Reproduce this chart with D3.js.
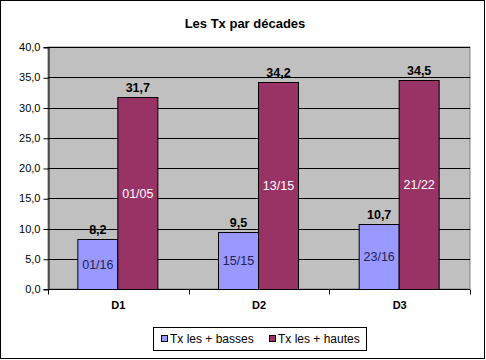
<!DOCTYPE html>
<html><head><meta charset="utf-8">
<script src="https://cdn.jsdelivr.net/npm/d3@7"></script>
<style>body{margin:0;background:#fff}svg{display:block;font-family:"Liberation Sans",Arial,sans-serif}</style>
</head><body><svg id="c" width="486" height="360"></svg>
<script>
const categories = ["D1","D2","D3"];
const seriesNames = ["Tx les + basses","Tx les + hautes"];
const basses = [8.2, 9.5, 10.7];
const hautes = [31.7, 34.2, 34.5];
const bassesDates = ["01/16","15/15","23/16"];
const hautesDates = ["01/05","13/15","21/22"];
const yTicks = [0,5,10,15,20,25,30,35,40];
const colors = ["#9999FF","#993366"];
const dateColors = ["#222255","#FFFFFF"];

const svg = d3.select("#c");
svg.append("rect").attr("x",0.5).attr("y",0.5).attr("width",484).attr("height",358).attr("fill","#fff").attr("stroke","#000");

const L=48,R=470,T=47,B=289;
const x = d3.scaleBand().domain(categories).range([L,R]);
const y = d3.scaleLinear().domain([0,40]).range([B,T]);
const fmt = v => d3.format(".1f")(v).replace(".",",");

svg.append("rect").attr("x",L).attr("y",T).attr("width",R-L).attr("height",B-T).attr("fill","#C0C0C0").attr("stroke","#808080");
svg.append("g").selectAll("line").data(yTicks.slice(1)).join("line")
  .attr("x1",L).attr("x2",R).attr("y1",d=>Math.round(y(d))+0.5).attr("y2",d=>Math.round(y(d))+0.5).attr("stroke","#000");

const data = [basses,hautes];
const dates = [bassesDates,hautesDates];
const bw = 40;
data.forEach((s,si)=>{
  const g = svg.append("g");
  g.selectAll("rect").data(s).join("rect")
    .attr("x",(d,i)=>x(categories[i])+x.bandwidth()/2-bw+si*bw-0.5)
    .attr("y",d=>Math.round(y(d))+0.5)
    .attr("width",bw).attr("height",d=>B-Math.round(y(d)))
    .attr("fill",colors[si]).attr("stroke","#000");
  g.selectAll("text.v").data(s).join("text").attr("class","v")
    .attr("x",(d,i)=>x(categories[i])+x.bandwidth()/2-bw/2+si*bw-0.5)
    .attr("y",d=>y(d)-5).attr("text-anchor","middle")
    .attr("font-size",12.5).attr("font-weight","bold").text(d=>fmt(d));
  g.selectAll("text.d").data(s).join("text").attr("class","d")
    .attr("x",(d,i)=>x(categories[i])+x.bandwidth()/2-bw/2+si*bw-0.5)
    .attr("y",d=>(y(d)+B)/2+4.5).attr("text-anchor","middle")
    .attr("font-size",12.5).attr("fill",dateColors[si]).text((d,i)=>dates[si][i]);
});

// axes
const ya = svg.append("g").attr("transform",`translate(${L+0.5},0)`)
  .call(d3.axisLeft(y).tickValues(yTicks).tickSize(5).tickPadding(3).tickFormat(fmt));
ya.select(".domain").attr("stroke","#000");
ya.selectAll("text").attr("font-size",11).attr("font-family","Liberation Sans, Arial, sans-serif");
ya.selectAll(".tick line").attr("transform","translate(0,0.5)");

const xa = svg.append("g").attr("transform",`translate(0,${B+0.5})`);
xa.append("line").attr("x1",L).attr("x2",R).attr("stroke","#000");
const bounds = [L].concat(categories.map(c=>x(c)+x.bandwidth()));
xa.selectAll("line.t").data(bounds).join("line").attr("class","t")
  .attr("x1",d=>Math.round(d)+0.5).attr("x2",d=>Math.round(d)+0.5).attr("y1",0).attr("y2",5).attr("stroke","#000");
xa.selectAll("text").data(categories).join("text")
  .attr("x",d=>x(d)+x.bandwidth()/2).attr("y",19).attr("text-anchor","middle")
  .attr("font-size",11).attr("font-weight","bold").text(d=>d);

// title
svg.append("text").attr("x",245).attr("y",28).attr("text-anchor","middle")
  .attr("font-size",13).attr("font-weight","bold").text("Les Tx par décades");

// legend
const lg = svg.append("g");
lg.append("rect").attr("x",153.5).attr("y",327.5).attr("width",213).attr("height",23).attr("fill","#fff").attr("stroke","#000");
const lx = [161,269];
seriesNames.forEach((n,i)=>{
  lg.append("rect").attr("x",lx[i]+0.5).attr("y",335.5).attr("width",6).attr("height",6).attr("fill",colors[i]).attr("stroke","#000");
  lg.append("text").attr("x",lx[i]+9).attr("y",343).attr("font-size",12).text(n);
});
</script></body></html>
